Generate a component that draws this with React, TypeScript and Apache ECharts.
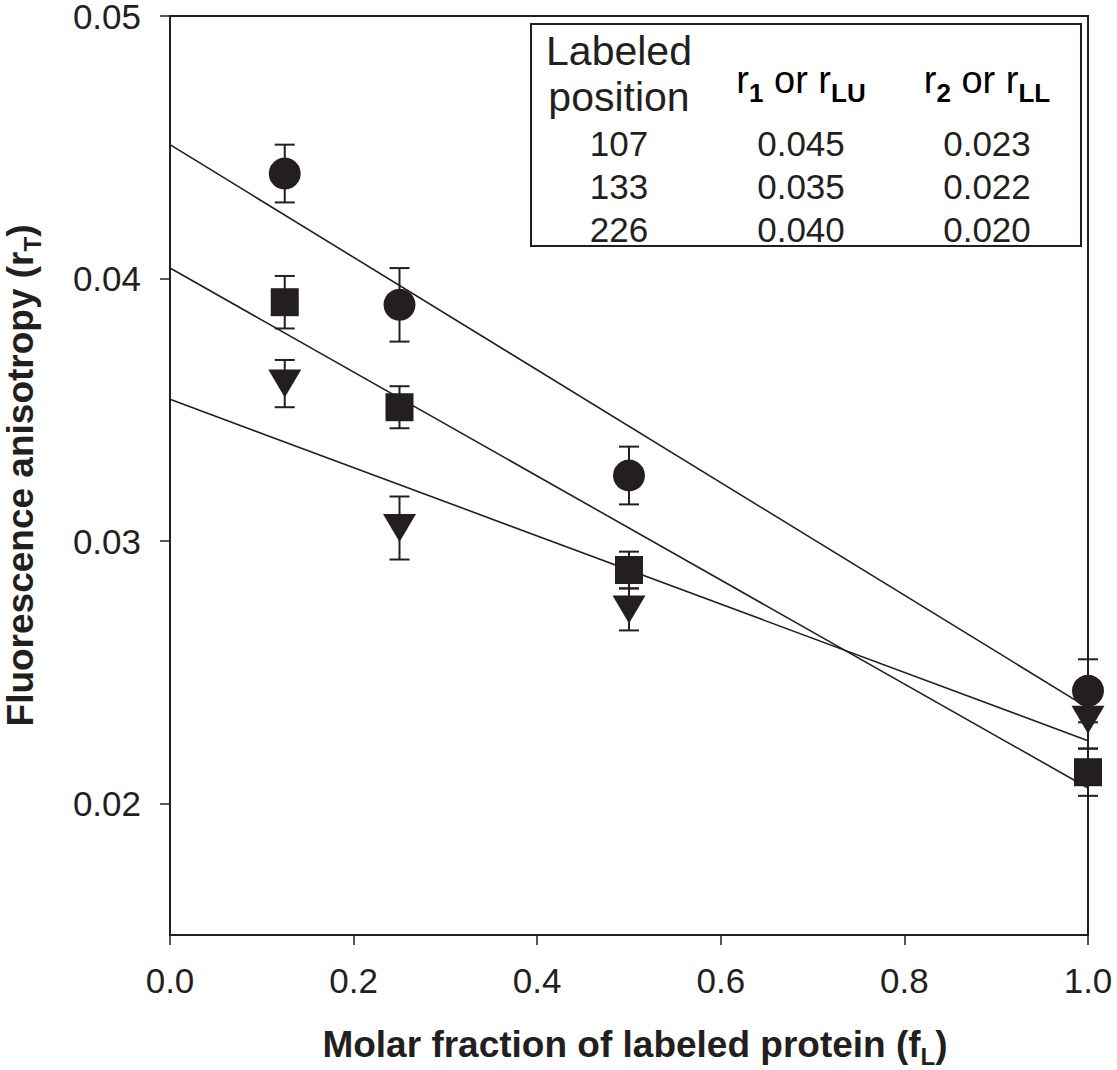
import React, { useEffect, useRef } from 'react';
import * as echarts from 'echarts';

// ---- data ----
const xValues = [0.125, 0.25, 0.5, 1.0];
const circleY = [0.044, 0.039, 0.0325, 0.0243];
const circleErr = [0.0011, 0.0014, 0.0011, 0.0012];
const squareY = [0.0391, 0.0351, 0.0289, 0.0212];
const squareErr = [0.001, 0.0008, 0.0007, 0.0009];
const triangleY = [0.036, 0.0305, 0.0274, 0.0232];
const triangleErr = [0.0009, 0.0012, 0.0008, 0.0011];

const fitX = [0, 1];
const fitCircle = [0.0451, 0.02365];
const fitSquare = [0.0404, 0.0206];
const fitTriangle = [0.0354, 0.0224];

const xTicks = [0, 0.2, 0.4, 0.6, 0.8, 1.0];
const yTicks = [0.02, 0.03, 0.04, 0.05];

const tablePositions = ['107', '133', '226'];
const tableR1 = ['0.045', '0.035', '0.040'];
const tableR2 = ['0.023', '0.022', '0.020'];

const INK = '#231f20';
const FONT = '"Liberation Sans", Arial, Helvetica, sans-serif';

function errorSeries(ys: number[], errs: number[]) {
  return {
    type: 'custom',
    silent: true,
    z: 2,
    data: xValues.map((x, i) => [x, ys[i], errs[i]]),
    encode: { x: 0, y: 1 },
    renderItem: (params: any, api: any) => {
      const x = api.value(0);
      const y = api.value(1);
      const e = api.value(2);
      const top = api.coord([x, y + e]);
      const bot = api.coord([x, y - e]);
      const half = 10;
      const style = { stroke: INK, lineWidth: 2 };
      return {
        type: 'group',
        children: [
          { type: 'line', shape: { x1: top[0], y1: top[1], x2: bot[0], y2: bot[1] }, style },
          { type: 'line', shape: { x1: top[0] - half, y1: top[1], x2: top[0] + half, y2: top[1] }, style },
          { type: 'line', shape: { x1: bot[0] - half, y1: bot[1], x2: bot[0] + half, y2: bot[1] }, style },
        ],
      };
    },
  };
}

function fitSeries(vals: number[]) {
  return {
    type: 'line',
    silent: true,
    z: 1,
    symbol: 'none',
    data: fitX.map((x, i) => [x, vals[i]]),
    lineStyle: { color: INK, width: 1.6 },
  };
}

function scatterSeries(ys: number[], symbol: string, size: any, rotate = 0) {
  return {
    type: 'scatter',
    silent: true,
    z: 3,
    symbol,
    symbolSize: size,
    symbolRotate: rotate,
    data: xValues.map((x, i) => [x, ys[i]]),
    itemStyle: { color: INK, opacity: 1 },
  };
}

const subRich = {
  s: { fontSize: 26, fontWeight: 'bold', fontFamily: FONT, color: INK, verticalAlign: 'bottom', lineHeight: 52 },
  m: { fontSize: 38, fontFamily: FONT, color: INK, verticalAlign: 'middle', lineHeight: 52 },
};

function tableGraphics() {
  const left = 531;
  const top = 24;
  const w = 550;
  const h = 222;
  const col = [619, 801, 987];
  const rowY = [143, 186, 229];
  const els: any[] = [
    { type: 'rect', shape: { x: left, y: top, width: w, height: h }, style: { fill: '#fff', stroke: INK, lineWidth: 2 }, z: 10 },
    { type: 'text', x: col[0], y: 51, z: 11, style: { text: 'Labeled', font: `41px ${FONT}`, fill: INK, align: 'center', verticalAlign: 'middle' } },
    { type: 'text', x: col[0], y: 97, z: 11, style: { text: 'position', font: `41px ${FONT}`, fill: INK, align: 'center', verticalAlign: 'middle' } },
    { type: 'text', x: col[1], y: 80, z: 11, style: { text: '{m|r}{s|1}{m| or r}{s|LU}', rich: subRich, align: 'center', verticalAlign: 'middle' } },
    { type: 'text', x: col[2], y: 80, z: 11, style: { text: '{m|r}{s|2}{m| or r}{s|LL}', rich: subRich, align: 'center', verticalAlign: 'middle' } },
  ];
  for (let i = 0; i < tablePositions.length; i++) {
    [tablePositions[i], tableR1[i], tableR2[i]].forEach((t, j) => {
      els.push({ type: 'text', x: col[j], y: rowY[i], z: 11, style: { text: t, font: `35px ${FONT}`, fill: INK, align: 'center', verticalAlign: 'middle' } });
    });
  }
  return els;
}

export default function App() {
  const ref = useRef<HTMLDivElement>(null);
  useEffect(() => {
    if (!ref.current) return;
    const chart = echarts.init(ref.current, undefined, { renderer: 'svg' });
    const nameRich = {
      sub: { fontSize: 24, fontWeight: 'bold', fontFamily: FONT, color: INK, verticalAlign: 'bottom', lineHeight: 48 },
    };
    chart.setOption({
      animation: false,
      backgroundColor: '#fff',
      grid: {
        left: 170, right: 29, top: 16, bottom: 135,
        containLabel: false, outerBoundsMode: 'none',
        show: true, borderColor: INK, borderWidth: 2, backgroundColor: 'transparent',
      },
      xAxis: {
        type: 'value',
        min: 0,
        max: 1,
        interval: 0.2,
        axisLine: { show: true, onZero: false, lineStyle: { color: INK, width: 2 } },
        axisTick: { show: true, inside: false, length: 10, lineStyle: { color: INK, width: 1.5 }, customValues: xTicks },
        axisLabel: { customValues: xTicks, formatter: (v: number) => v.toFixed(1), fontSize: 35, color: INK, margin: 28, fontFamily: FONT },
        splitLine: { show: false },
        name: 'Molar fraction of labeled protein (f{sub|L})',
        nameLocation: 'middle',
        nameGap: 85,
        nameTextStyle: { fontSize: 37, fontWeight: 'bold', fontFamily: FONT, color: INK, lineHeight: 48, rich: nameRich, padding: [0, 0, 0, 12] },
      },
      yAxis: {
        type: 'value',
        min: 0.015,
        max: 0.05,
        axisLine: { show: true, onZero: false, lineStyle: { color: INK, width: 2 } },
        axisTick: { show: true, inside: false, length: 10, lineStyle: { color: INK, width: 1.5 }, customValues: yTicks },
        axisLabel: { customValues: yTicks, formatter: (v: number) => v.toFixed(2), fontSize: 35, color: INK, margin: 29, fontFamily: FONT },
        splitLine: { show: false },
        name: 'Fluorescence anisotropy (r{sub|T})',
        nameLocation: 'middle',
        nameGap: 126,
        nameTextStyle: { fontSize: 37, fontWeight: 'bold', fontFamily: FONT, color: INK, lineHeight: 48, rich: nameRich },
      },
      series: [
        fitSeries(fitCircle),
        fitSeries(fitSquare),
        fitSeries(fitTriangle),
        errorSeries(circleY, circleErr),
        errorSeries(squareY, squareErr),
        errorSeries(triangleY, triangleErr),
        scatterSeries(circleY, 'circle', 32),
        scatterSeries(squareY, 'rect', 28),
        scatterSeries(triangleY, 'triangle', [33, 28], 180),
      ],
      graphic: tableGraphics(),
    });
    return () => chart.dispose();
  }, []);
  return <div ref={ref} style={{ position: 'absolute', left: 0, top: 0, width: 1117, height: 1070 }} />;
}
